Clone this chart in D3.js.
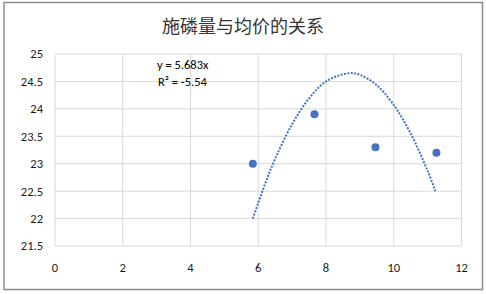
<!DOCTYPE html>
<html><head><meta charset="utf-8">
<script src="https://cdn.jsdelivr.net/npm/d3@7"></script>
<style>html,body{margin:0;padding:0;background:#fff;}</style>
</head><body>
<svg id="c" width="486" height="294"></svg>
<script>
const title = "施磷量与均价的关系";
const xTicks = [0, 2, 4, 6, 8, 10, 12];
const yTicks = [21.5, 22, 22.5, 23, 23.5, 24, 24.5, 25];
const pointX = [5.84, 7.66, 9.46, 11.26];
const pointY = [23.0, 23.9, 23.3, 23.2];
// trendline
const trendX = [5.84, 6.2, 6.5, 7.0, 7.5, 8.0, 8.675, 9.0, 9.5, 10.0, 10.5, 11.0, 11.23];
const trendY = [22.0, 22.63, 23.09, 23.72, 24.19, 24.50, 24.65, 24.62, 24.43, 24.07, 23.55, 22.87, 22.5];
const eqLines = ["y = 5.683x", "R\u00b2 = -5.54"];

const svg = d3.select("#c");
const font = "Carlito, Calibri, Lato, 'Open Sans', sans-serif";
svg.append("rect").attr("x", 4).attr("y", 2.5).attr("width", 478.5).attr("height", 287)
  .attr("fill", "#fff").attr("stroke", "#8c8c8c").attr("stroke-width", 1.5);

const x = d3.scaleLinear().domain([0, 12]).range([55, 461.5]);
const y = d3.scaleLinear().domain([21.5, 25]).range([246, 54]);

const g = svg.append("g");
g.selectAll("line.h").data(yTicks).join("line")
  .attr("x1", x(0)).attr("x2", x(12)).attr("y1", d => y(d)).attr("y2", d => y(d))
  .attr("stroke", "#d9d9d9").attr("stroke-width", 1);
g.selectAll("line.v").data(xTicks).join("line")
  .attr("y1", y(21.5)).attr("y2", y(25)).attr("x1", d => x(d)).attr("x2", d => x(d))
  .attr("stroke", "#d9d9d9").attr("stroke-width", 1);

g.selectAll("text.yt").data(yTicks).join("text")
  .attr("x", 43).attr("y", d => y(d)).attr("dy", "0.35em")
  .attr("text-anchor", "end").attr("font-family", font).attr("font-size", 12.5)
  .attr("fill", "#1a1a1a").text(d => d);
g.selectAll("text.xt").data(xTicks).join("text")
  .attr("x", d => x(d)).attr("y", 272)
  .attr("text-anchor", "middle").attr("font-family", font).attr("font-size", 12.5)
  .attr("fill", "#1a1a1a").text(d => d);

svg.append("text").attr("x", 243).attr("y", 33).attr("text-anchor", "middle")
  .attr("font-family", "'Noto Sans CJK SC', sans-serif").attr("font-size", 18)
  .attr("fill", "#333").text(title);

const line = d3.line().x(d => x(d[0])).y(d => y(d[1])).curve(d3.curveCatmullRom);
g.append("path").datum(d3.zip(trendX, trendY)).attr("d", line)
  .attr("fill", "none").attr("stroke", "#4472C4").attr("stroke-width", 2)
  .attr("stroke-dasharray", "2 1.4");

g.selectAll("circle").data(d3.zip(pointX, pointY)).join("circle")
  .attr("cx", d => x(d[0])).attr("cy", d => y(d[1])).attr("r", 4)
  .attr("fill", "#4472C4");

svg.append("g").selectAll("text").data(eqLines).join("text")
  .attr("x", (d, i) => i === 0 ? 157 : 158).attr("y", (d, i) => 69 + i * 17)
  .attr("font-family", font).attr("font-size", 12.5).attr("fill", "#000").text(d => d);
</script>
</body></html>
